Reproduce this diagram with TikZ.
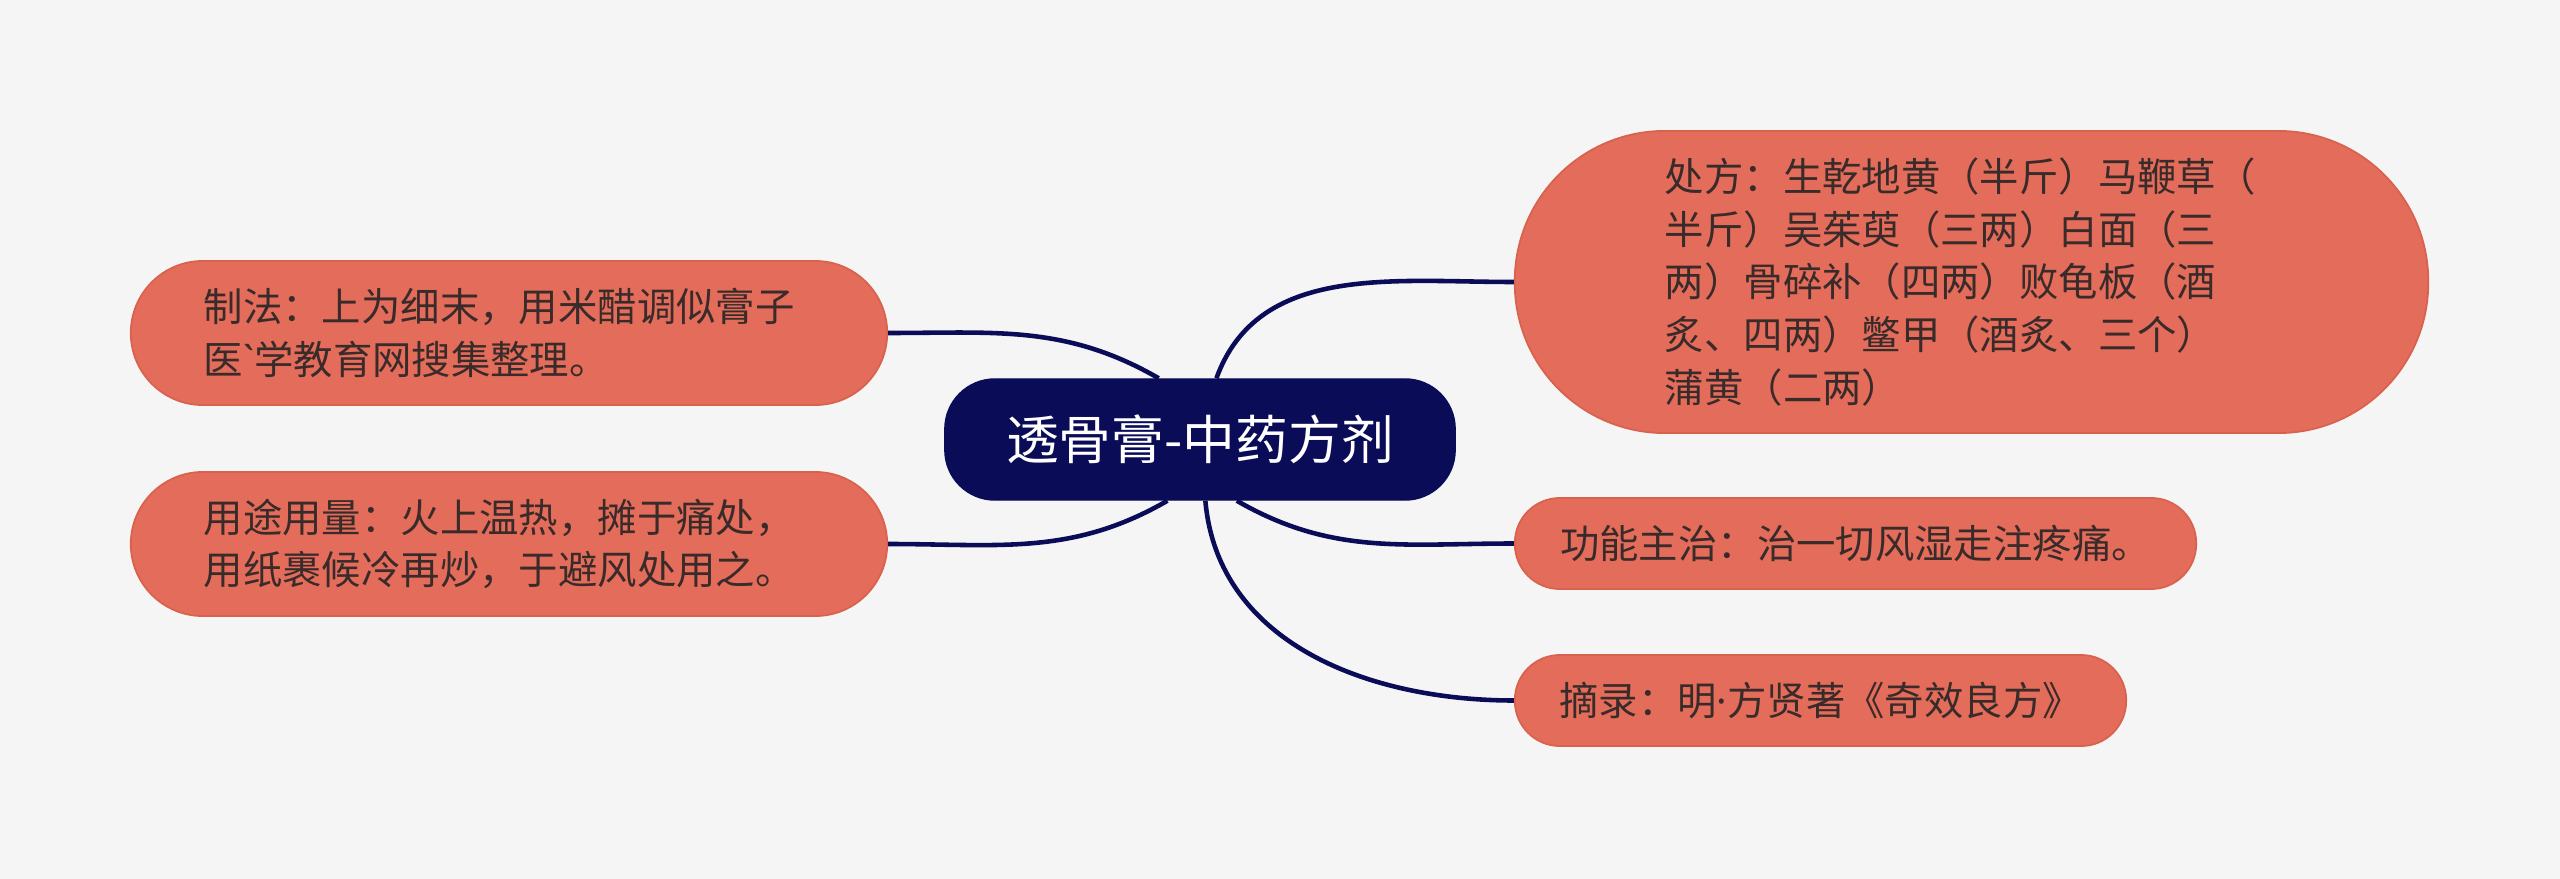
\documentclass[tikz,border=0pt]{standalone}
\usepackage{fontspec}
\setmainfont{Noto Sans CJK SC}[Ligatures=TeXOff]
\newfontfamily\latinfont{Noto Sans}[Ligatures=TeXOff]
\usepackage{xcolor}
\usepackage{tikz}
\definecolor{bgc}{HTML}{F5F5F5}
\definecolor{navy}{HTML}{0A0C58}
\definecolor{coral}{HTML}{E46C5A}
\definecolor{coralb}{HTML}{D9624F}
\definecolor{txt}{HTML}{3A2B2B}

\begin{document}
\begin{tikzpicture}[x=0.01cm,y=-0.01cm,
root/.style={fill=navy,draw=navy,text=white,rounded corners=0.5cm,minimum width=5.1cm,minimum height=1.21cm,font=\fontsize{15}{18}\selectfont},
leaf/.style={fill=coral,draw=coralb,line width=0.5pt,text=txt,inner ysep=0pt,font=\fontsize{11.2}{15}\selectfont},
link/.style={draw=navy,line width=1.3pt}]
\fill[bgc] (0,0) rectangle (2560,879);
\node[root] (c) at (1200,439.5) {透骨膏-中药方剂};
\node[leaf,minimum width=9.13cm,minimum height=3.02cm,rounded corners=1.5cm,text width=6.13cm,inner xsep=1.5cm,align=left] (rx1) at (1971.5,282) {处方：生乾地黄（半斤）马鞭草（\\半斤）吴茱萸（三两）白面（三\\两）骨碎补（四两）败龟板（酒\\炙、四两）鳖甲（酒炙、三个）\\蒲黄（二两）};
\node[leaf,minimum width=6.81cm,minimum height=0.91cm,rounded corners=0.45cm] (rx2) at (1855.5,543.5) {功能主治：治一切风湿走注疼痛。};
\node[leaf,minimum width=6.11cm,minimum height=0.91cm,rounded corners=0.45cm] (rx3) at (1820.5,700.5) {摘录：明{\latinfont ·}方贤著《奇效良方》};
\node[leaf,minimum width=7.56cm,minimum height=1.44cm,rounded corners=0.72cm,text width=6.1cm,inner xsep=0.73cm,align=left] (lx1) at (509,333) {制法：上为细末，用米醋调似膏子\\医{\latinfont `}学教育网搜集整理。};
\node[leaf,minimum width=7.56cm,minimum height=1.44cm,rounded corners=0.72cm,text width=6.1cm,inner xsep=0.73cm,align=left] (lx2) at (509,544) {用途用量：火上温热，摊于痛处，\\用纸裹候冷再炒，于避风处用之。};
\draw[link] (c.75) to[out=70,in=180] (rx1.west);
\draw[link] (c.301) to[out=-30,in=180] (rx2.west);
\draw[link] (c.275) to[out=-85,in=180] (rx3.west);
\draw[link] (c.124) to[out=150,in=0] (lx1.east);
\draw[link] (c.242) to[out=210,in=0] (lx2.east);
\end{tikzpicture}
\end{document}
